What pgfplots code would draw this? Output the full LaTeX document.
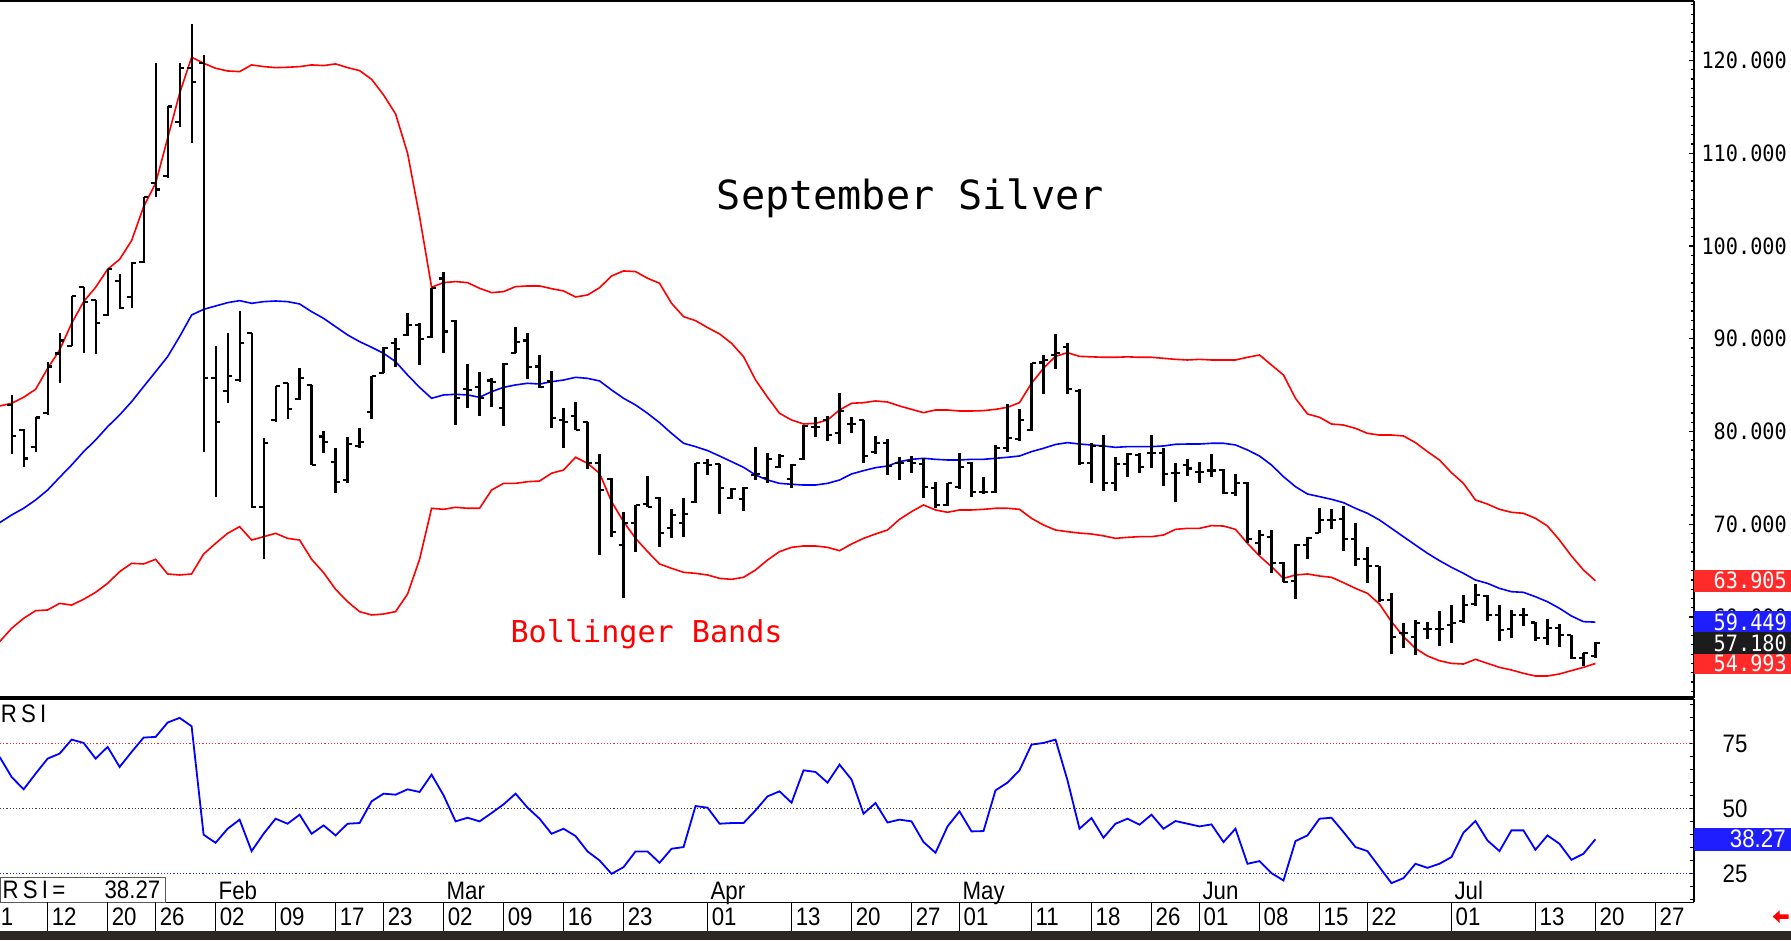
\documentclass[border=0pt]{standalone}
\usepackage{fontspec}
\usepackage{pgfplots}
\usepackage{pgfplotstable}
\pgfplotsset{compat=1.18}
\newfontfamily\monofont{DejaVu Sans Mono}
\newfontfamily\pricefont[FakeStretch=0.9]{DejaVu Sans Mono}
\newfontfamily\narrowfont[FakeStretch=0.88]{Liberation Sans}
\definecolor{bred}{HTML}{FF0000}
\definecolor{bblue}{HTML}{0000FF}
\definecolor{boxred}{HTML}{FF2A2A}
\definecolor{boxblue}{HTML}{1E1EFF}
\definecolor{boxblack}{HTML}{1C1C1C}
\definecolor{darkbar}{HTML}{2B2723}
\pgfdeclareplotmark{otick}{\pgfpathmoveto{\pgfqpoint{-1.1pt}{0pt}}\pgfpathlineto{\pgfqpoint{0pt}{0pt}}\pgfusepathqstroke}
\pgfdeclareplotmark{ctick}{\pgfpathmoveto{\pgfqpoint{0pt}{0pt}}\pgfpathlineto{\pgfqpoint{1.1pt}{0pt}}\pgfusepathqstroke}
\pgfdeclareplotmark{nothing}{}

\pgfplotstableread{
d O H L C
-3 82.86 83.94 77.58 79.50
-2 80.20 80.24 76.14 77.10
-1 78.37 81.60 77.80 81.50
0 82.00 87.50 81.80 87.00
1 88.40 90.60 85.20 89.80
2 89.26 94.61 89.20 94.61
3 95.60 95.62 88.43 94.00
4 94.20 94.20 88.40 91.74
5 92.56 97.50 92.50 97.49
6 96.20 96.98 93.20 93.28
7 94.47 98.30 93.30 98.14
8 98.30 105.30 98.20 105.25
9 106.76 119.77 105.25 106.10
10 107.55 115.10 107.30 115.03
11 113.40 119.70 112.80 119.16
12 119.16 123.94 111.15 117.72
13 119.77 120.60 77.83 85.73
14 85.73 89.22 72.90 81.06
15 84.40 90.59 83.11 85.99
16 85.55 92.99 85.37 89.51
17 90.59 90.59 71.72 71.90
18 71.83 79.26 66.22 78.73
19 81.24 84.94 81.06 84.90
20 85.20 85.20 81.40 82.39
21 83.47 86.88 83.40 85.80
22 85.02 85.02 76.39 76.39
23 79.45 80.09 77.72 78.90
24 76.75 78.19 73.41 74.59
25 74.77 79.37 74.48 78.65
26 78.40 80.34 78.19 78.91
27 82.14 85.99 81.31 85.99
28 86.34 89.08 86.27 89.04
29 89.50 90.05 86.99 88.86
30 90.40 92.74 90.30 91.50
31 91.50 91.74 87.17 89.94
32 90.16 95.44 90.05 95.44
33 96.50 97.24 88.43 90.77
34 91.95 92.02 80.70 83.58
35 84.60 87.28 82.57 84.50
36 84.80 86.45 81.71 83.60
37 85.50 85.73 82.68 85.30
38 82.50 87.35 80.60 87.30
39 88.50 91.23 88.43 89.69
40 89.80 90.59 85.66 86.99
41 87.00 88.25 84.66 84.80
42 85.40 86.53 80.40 81.42
43 81.20 82.57 78.26 81.00
44 81.70 83.15 80.16 80.20
45 81.00 81.00 75.92 76.60
46 76.64 77.58 66.69 73.69
47 74.85 74.95 68.59 69.13
48 67.76 71.36 62.01 70.10
49 70.17 72.07 67.04 72.07
50 72.20 75.24 71.90 71.90
51 72.80 72.98 67.58 69.09
52 69.56 71.61 68.48 71.00
53 70.17 72.80 68.66 71.10
54 72.44 76.57 72.33 76.57
55 76.60 77.00 75.30 76.40
56 76.50 76.50 71.10 73.90
57 72.80 73.87 72.69 73.80
58 72.70 73.98 71.47 73.90
59 75.30 78.30 74.77 75.40
60 74.95 77.65 74.41 77.00
61 76.20 77.58 76.03 77.36
62 74.84 76.50 73.87 76.39
63 77.00 80.70 76.93 80.60
64 80.52 81.53 79.37 80.52
65 81.20 81.67 79.00 79.60
66 79.80 84.19 78.65 82.25
67 80.80 81.53 79.80 80.80
68 81.20 81.24 76.64 77.36
69 77.80 79.52 77.58 78.80
70 78.80 79.16 75.30 76.30
71 76.60 77.29 74.77 76.60
72 76.80 77.36 75.49 76.60
73 76.50 77.11 72.80 74.00
74 73.90 74.59 71.72 72.08
75 72.08 74.48 71.97 74.41
76 73.98 77.72 73.77 76.20
77 76.64 76.75 72.90 73.50
78 73.50 75.06 73.27 73.50
79 73.50 78.55 73.34 78.19
80 78.19 82.97 77.83 79.26
81 79.16 82.39 79.00 81.24
82 80.16 87.35 80.09 87.35
83 87.43 88.25 84.05 87.71
84 88.25 90.52 86.71 88.43
85 89.15 89.51 84.05 84.55
86 84.40 84.60 76.40 76.60
87 76.57 78.80 74.40 78.44
88 78.44 79.62 73.62 74.41
89 74.41 77.29 73.62 76.50
90 76.50 77.72 75.06 77.58
91 77.50 77.65 75.56 76.20
92 77.70 79.62 76.03 77.70
93 77.70 78.20 74.10 75.40
94 75.50 76.57 72.44 75.50
95 76.40 77.00 75.20 76.00
96 75.60 76.75 74.50 75.60
97 75.80 77.58 75.13 75.80
98 75.85 75.92 73.26 73.41
99 73.41 75.42 73.05 74.48
100 74.48 74.59 67.94 68.38
101 68.02 69.38 66.69 68.84
102 68.66 69.38 64.78 65.79
103 65.79 65.97 63.81 63.81
104 63.90 67.87 61.90 67.76
105 67.76 68.66 66.22 68.48
106 69.09 71.72 69.09 70.46
107 70.46 71.61 69.45 70.46
108 70.53 71.97 67.15 68.38
109 68.38 70.17 65.50 66.22
110 66.22 67.50 63.63 65.50
111 65.50 65.50 61.65 61.83
112 61.83 62.62 56.01 57.81
113 58.24 59.32 56.62 58.24
114 57.81 59.68 55.90 59.39
115 58.67 59.50 57.60 58.67
116 58.67 60.68 56.87 58.67
117 59.14 61.29 57.23 59.39
118 59.61 62.37 59.39 61.29
119 61.40 63.56 61.19 62.37
120 62.26 62.37 59.61 60.22
121 60.22 61.29 57.45 58.60
122 58.67 60.76 57.70 60.22
123 60.22 60.93 59.03 60.22
124 59.40 59.50 57.45 57.70
125 57.70 59.75 56.98 58.78
126 58.78 59.25 56.80 58.06
127 58.06 58.06 55.44 55.55
128 55.55 56.16 54.72 56.10
129 55.80 57.34 55.55 57.18
}\bars

\pgfplotstableread{
d UB MB LB RSI
-4 82.75 70.17 57.34 69.87
-3 83.04 71.00 58.78 62.17
-2 83.69 71.72 59.86 57.43
-1 84.55 72.62 60.68 63.46
0 86.80 73.69 60.76 69.23
1 88.79 75.06 61.47 71.15
2 91.66 76.39 61.29 76.53
3 94.00 77.83 61.91 75.25
4 95.55 79.09 62.66 69.23
5 97.49 80.52 63.63 73.71
6 98.56 81.78 64.89 66.02
7 100.58 83.22 65.79 71.79
8 104.24 84.84 65.72 77.30
9 106.76 86.45 66.22 77.56
10 111.61 88.07 64.64 83.07
11 116.46 90.23 64.53 84.87
12 120.35 92.56 64.64 81.64
13 119.70 93.17 66.79 40.00
14 119.16 93.53 67.94 36.92
15 118.87 93.89 69.02 42.30
16 118.80 94.11 69.74 45.77
17 119.52 93.82 68.30 33.71
18 119.34 94.00 68.66 40.38
19 119.23 94.07 69.02 46.15
20 119.27 94.00 68.48 44.23
21 119.34 93.75 68.30 47.69
22 119.52 92.92 66.22 40.38
23 119.45 92.20 64.78 43.59
24 119.63 91.30 62.98 39.74
25 119.23 90.41 61.65 44.23
26 118.91 89.69 60.58 44.49
27 117.97 89.08 60.22 52.82
28 116.28 88.43 60.32 55.77
29 114.24 87.53 60.58 55.38
30 109.99 86.09 62.48 57.43
31 103.17 84.76 66.22 56.41
32 95.55 83.58 71.72 63.08
33 96.05 83.94 71.61 55.13
34 96.16 84.01 71.83 45.13
35 96.05 83.94 71.72 46.53
36 95.44 83.69 71.72 45.13
37 94.97 84.30 73.69 48.33
38 95.08 84.76 74.41 51.67
39 95.62 85.02 74.41 55.77
40 95.69 85.20 74.59 50.38
41 95.69 85.12 74.66 46.15
42 95.40 85.37 75.50 40.38
43 95.15 85.55 75.85 42.30
44 94.50 85.84 77.22 39.49
45 94.72 85.73 76.57 33.59
46 95.50 85.45 75.49 30.12
47 96.77 84.48 72.44 25.00
48 97.31 83.58 70.28 27.56
49 97.24 82.86 68.48 33.59
50 96.52 81.96 67.05 33.59
51 95.98 80.95 65.72 29.23
52 93.82 79.80 65.25 34.62
53 92.38 78.73 64.82 35.26
54 91.95 78.37 64.71 51.02
55 91.20 77.94 64.53 50.38
56 90.52 77.36 64.17 44.23
57 89.51 76.75 64.06 44.49
58 88.07 76.14 64.28 44.49
59 85.56 75.31 65.07 49.36
60 83.69 74.77 66.15 54.74
61 81.96 74.41 67.05 56.66
62 81.24 74.31 67.51 52.30
63 80.81 74.23 67.66 64.74
64 80.88 74.23 67.66 64.10
65 81.24 74.41 67.51 60.00
66 82.32 74.77 67.15 66.92
67 83.04 75.42 67.87 61.20
68 83.11 75.78 68.48 48.08
69 83.29 76.10 68.95 52.18
70 83.18 76.28 69.38 44.70
71 82.75 76.75 70.53 45.80
72 82.39 77.00 71.36 45.13
73 82.03 77.11 72.08 37.18
74 82.32 77.00 71.54 33.08
75 82.32 76.93 71.29 43.20
76 82.21 76.93 71.54 48.97
77 82.21 77.00 71.54 41.28
78 82.25 77.00 71.61 41.41
79 82.39 77.11 71.72 57.05
80 82.61 77.22 71.72 60.00
81 83.11 77.36 71.61 64.74
82 85.20 77.83 70.64 74.60
83 86.81 78.19 69.92 75.25
84 88.10 78.60 69.38 76.53
85 88.50 78.80 69.20 60.90
86 88.10 78.65 69.05 42.30
87 88.05 78.55 68.95 46.41
88 88.00 78.44 68.75 38.85
89 88.00 78.29 68.48 44.23
90 88.05 78.37 68.59 46.15
91 88.00 78.37 68.66 43.84
92 88.00 78.37 68.66 47.69
93 87.89 78.44 68.84 42.30
94 87.78 78.62 69.45 45.26
95 87.71 78.65 69.56 44.23
96 87.78 78.65 69.56 43.20
97 87.71 78.73 69.85 43.97
98 87.71 78.73 69.81 37.18
99 87.71 78.55 69.45 42.30
100 88.00 78.01 67.94 28.85
101 88.25 77.36 66.58 29.87
102 87.17 76.39 65.43 25.26
103 86.09 75.13 64.17 22.44
104 83.58 74.05 64.53 37.56
105 81.89 73.26 64.64 39.74
106 81.53 72.98 64.42 46.15
107 80.81 72.69 64.28 46.53
108 80.70 72.33 63.70 41.03
109 80.34 71.72 63.09 35.26
110 79.80 71.18 62.55 33.71
111 79.62 70.46 61.40 27.56
112 79.62 69.56 59.50 21.41
113 79.52 68.66 57.88 23.33
114 78.80 67.76 56.62 28.85
115 77.83 66.87 55.80 27.30
116 76.93 66.08 55.29 28.85
117 75.56 65.36 55.00 31.41
118 74.41 64.71 54.93 40.77
119 72.62 63.99 55.44 45.26
120 72.18 63.63 55.00 37.82
121 71.61 63.09 54.57 33.71
122 71.29 62.73 54.29 41.67
123 71.18 62.66 53.93 41.67
124 70.64 62.19 53.64 34.23
125 69.81 61.65 53.64 39.74
126 68.30 60.94 53.86 36.54
127 66.58 60.11 54.22 30.38
128 65.07 59.50 54.57 32.69
129 63.905 59.449 54.993 38.27
}\bands

\begin{document}
\begin{tikzpicture}
\useasboundingbox (0,0) rectangle (156.8mm,82.3mm);
\fill[darkbar] (0,0) rectangle (156.8mm,0.8mm);

% ---------------- main price panel
\begin{axis}[
  at={(0mm,21.2mm)}, anchor=south west, scale only axis,
  width=148.3mm, height=61.0mm,
  xmin=-3.97, xmax=137.21, ymin=51.28, ymax=126.4,
  axis line style={draw=none},
  xtick=\empty,
  ytick={60,70,80,90,100,110,120},
  yticklabels={60.000,70.000,80.000,90.000,100.000,110.000,120.000},
  minor ytick={52,53,...,126},
  ytick pos=right, yticklabel pos=right,
  tick align=inside,
  major tick length=1.3pt, minor tick length=0.7pt,
  ytick style={black, line width=0.3pt},
  yticklabel style={font={\pricefont\fontsize{5.6}{6}\selectfont}, anchor=east, inner sep=0pt, xshift=8.2mm},
  clip mode=individual,
]
\addplot[bred, line width=0.4pt, mark=none] table[x=d,y=UB]{\bands};
\addplot[bred, line width=0.4pt, mark=none] table[x=d,y=LB]{\bands};
\addplot[bblue, line width=0.4pt, mark=none] table[x=d,y=MB]{\bands};
\addplot[black, only marks, mark=nothing, error bars/.cd, y dir=both, y explicit, error mark=none,
  error bar style={black, line width=0.55pt}]
  table[x=d, y expr=(\thisrow{H}+\thisrow{L})/2, y error expr=(\thisrow{H}-\thisrow{L})/2]{\bars};
\addplot[black, only marks, mark=otick, mark options={black, line width=0.55pt}] table[x=d,y=O]{\bars};
\addplot[black, only marks, mark=ctick, mark options={black, line width=0.55pt}] table[x=d,y=C]{\bars};
\node[font={\monofont\fontsize{10}{12}\selectfont}] at (rel axis cs:0.5374,0.717) {September Silver};
\node[text=bred, font={\monofont\fontsize{7.5}{9}\selectfont}] at (rel axis cs:0.3817,0.0918) {Bollinger Bands};
\draw[black, line width=0.5pt] (rel axis cs:0,1) -- (rel axis cs:1,1);
\draw[black, line width=0.9pt] (rel axis cs:0,0) -- (rel axis cs:1,0);
\draw[black, line width=0.35pt] (rel axis cs:1,0) -- (rel axis cs:1,1);
\coordinate (vUB) at (axis cs:137.21,63.905);
\coordinate (vMB) at (axis cs:137.21,59.449);
\coordinate (vC) at (axis cs:137.21,57.18);
\coordinate (vLB) at (axis cs:137.21,54.993);
\end{axis}

\fill[boxred] ([yshift=-0.95mm]vUB) rectangle ([xshift=8.5mm,yshift=0.95mm]vUB);
\node[anchor=east, inner sep=0pt, text=white, font={\pricefont\fontsize{5.6}{6}\selectfont}] at ([xshift=8.2mm]vUB) {63.905};
\fill[boxred] ([yshift=-0.95mm]vLB) rectangle ([xshift=8.5mm,yshift=0.95mm]vLB);
\node[anchor=east, inner sep=0pt, text=white, font={\pricefont\fontsize{5.6}{6}\selectfont}] at ([xshift=8.2mm]vLB) {54.993};
\fill[boxblue] ([yshift=-0.95mm]vMB) rectangle ([xshift=8.5mm,yshift=0.95mm]vMB);
\node[anchor=east, inner sep=0pt, text=white, font={\pricefont\fontsize{5.6}{6}\selectfont}] at ([xshift=8.2mm]vMB) {59.449};
\fill[boxblack] ([yshift=-0.95mm]vC) rectangle ([xshift=8.5mm,yshift=0.95mm]vC);
\node[anchor=east, inner sep=0pt, text=white, font={\pricefont\fontsize{5.6}{6}\selectfont}] at ([xshift=8.2mm]vC) {57.180};

% ---------------- RSI panel
\begin{axis}[
  at={(0mm,3.3mm)}, anchor=south west, scale only axis,
  width=148.3mm, height=17.8mm,
  xmin=-3.97, xmax=137.21, ymin=14.04, ymax=92.1,
  axis line style={draw=none},
  xtick={14,33,55,76,96,117}, xticklabels={Feb,Mar,Apr,May,Jun,Jul},
  xtick style={draw=none},
  xticklabel style={font={\narrowfont\fontsize{6.3}{7}\selectfont}, anchor=base west, inner sep=0pt, xshift=0.2mm, yshift=0.25mm},
  ytick={25,50,75}, yticklabels={25,50,75}, minor ytick={15,20,...,90},
  ytick pos=right, yticklabel pos=right, tick align=inside,
  major tick length=1.1pt, minor tick length=1.1pt,
  ytick style={black, line width=0.3pt},
  yticklabel style={font={\narrowfont\fontsize{6.3}{7}\selectfont}, anchor=center, inner sep=0pt, xshift=3.6mm},
  clip mode=individual,
]
\addplot[red!85!white, line width=0.3pt, dash pattern=on 0.3pt off 0.5pt] coordinates {(-3.97,75) (137.21,75)};
\addplot[black!75, line width=0.3pt, dash pattern=on 0.3pt off 0.5pt] coordinates {(-3.97,50) (137.21,50)};
\addplot[blue!85!white, line width=0.3pt, dash pattern=on 0.3pt off 0.5pt] coordinates {(-3.97,25) (137.21,25)};
\addplot[bblue, line width=0.45pt, mark=none] table[x=d,y=RSI]{\bands};
\draw[black, line width=0.35pt] (rel axis cs:1,0) -- (rel axis cs:1,1);
\draw[black, line width=0.4pt] (rel axis cs:0,0) -- (rel axis cs:1,0);
\node[anchor=north west, inner sep=0pt, font={\narrowfont\fontsize{6.3}{7}\selectfont}] at ([yshift=-0.4mm]rel axis cs:0,1) {R\,S\,I};
\draw[black!65, line width=0.3pt, fill=white] (rel axis cs:0,0) rectangle (rel axis cs:0.0978,0.1236);
\node[anchor=west, inner sep=0pt, font={\narrowfont\fontsize{6.3}{7}\selectfont}] at (rel axis cs:0.001,0.062) {R\,S\,I\,=};
\node[anchor=east, inner sep=0pt, font={\narrowfont\fontsize{6.3}{7}\selectfont}] at (rel axis cs:0.0951,0.062) {38.27};
\coordinate (vR) at (axis cs:137.21,38.27);
\end{axis}
\fill[boxblue] ([yshift=-1.0mm]vR) rectangle ([xshift=8.5mm,yshift=1.0mm]vR);
\node[anchor=east, inner sep=0pt, text=white, font={\narrowfont\fontsize{6.3}{7}\selectfont}] at ([xshift=8.1mm]vR) {38.27};

% ---------------- date strip
\begin{axis}[
  at={(0mm,0.8mm)}, anchor=south west, scale only axis,
  width=148.3mm, height=2.5mm,
  xmin=-3.97, xmax=137.21, ymin=0, ymax=1,
  axis line style={draw=none}, ytick=\empty,
  xtick={0,5,9,14,19,24,28,33,38,43,48,55,62,67,72,76,82,87,92,96,101,106,110,117,124,129,134},
  xticklabels={12,20,26,02,09,17,23,02,09,16,23,01,13,20,27,01,11,18,26,01,08,15,22,01,13,20,27},
  xmajorgrids, grid style={black, line width=0.3pt},
  xtick style={draw=none},
  xticklabel style={font={\narrowfont\fontsize{6.3}{7}\selectfont}, anchor=west, inner sep=0pt, xshift=0.3mm, yshift=1.25mm},
]
\node[anchor=west, inner sep=0pt, font={\narrowfont\fontsize{6.3}{7}\selectfont}] at (rel axis cs:0,0.5) {1};
\end{axis}

\fill[red] (155.2mm,2.05mm) -- (155.8mm,2.6mm) -- (155.8mm,2.25mm) -- (156.6mm,2.25mm) -- (156.6mm,1.85mm) -- (155.8mm,1.85mm) -- (155.8mm,1.5mm) -- cycle;
\end{tikzpicture}
\end{document}
